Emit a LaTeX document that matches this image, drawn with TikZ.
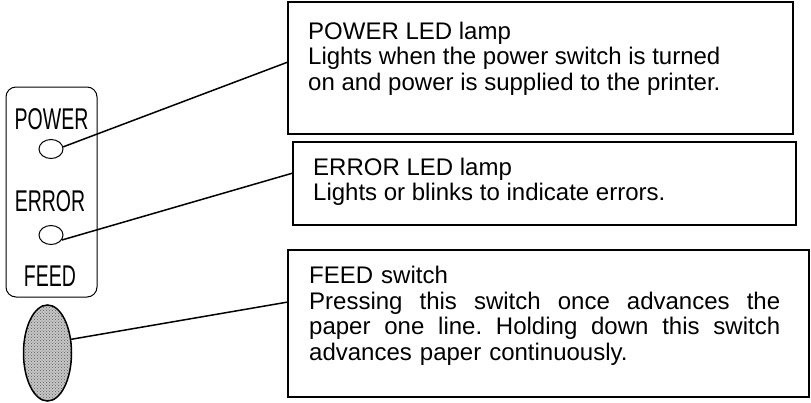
\documentclass[tikz,border=0pt]{standalone}
\usepackage{fontspec}
\setmainfont{Liberation Sans}
\newfontfamily\panelfont[FakeStretch=0.65]{Liberation Sans}
\usetikzlibrary{shapes.geometric, patterns, positioning, calc}
\frenchspacing
% justified line of the FEED text
\newcommand{\spreadline}[1]{\leavevmode\hbox to 471pt{\spaceskip=6.7pt plus 1fil\relax #1}}
\tikzset{
  infobox/.style={draw, line width=1.2pt, inner sep=0pt, outer sep=0pt, anchor=north west},
  infotext/.style={anchor=north west, inner sep=0pt, align=left, font=\fontsize{24}{25.5}\selectfont},
  paneltext/.style={inner sep=0pt, font=\panelfont\fontsize{30}{30}\selectfont},
  ledlamp/.style={ellipse, draw, line width=1pt, minimum width=24pt, minimum height=19pt, inner sep=0pt},
  leader/.style={line width=1.5pt}
}

\begin{document}
\begin{tikzpicture}[x=1pt, y=-1pt]
  \useasboundingbox (0,0) rectangle (811,402);
  % Panel
  \draw[line width=1pt, rounded corners=10pt] (6,87) rectangle (97,297);
  \node[paneltext] (pwrlabel) at (51.5,119) {POWER};
  \node[ledlamp] (pwrled) at (51,149) {};
  \node[paneltext] (errlabel) at (50,201) {ERROR};
  \node[ledlamp] (errled) at (51,235) {};
  \node[paneltext] (feedlabel) at (50,276) {FEED};
  % Feed button
  \node[ellipse, draw, line width=1.5pt, minimum width=48pt, minimum height=96pt, inner sep=0pt,
        preaction={fill=black!22}, pattern=crosshatch dots, pattern color=black!65] (feedbtn) at (47.5,353) {};
  % Boxes
  \node[infobox, minimum width=505pt, minimum height=132pt] (pwrbox) at (288,2) {};
  \node[infobox, minimum width=503pt, minimum height=83pt] (errbox) at (293,142) {};
  \node[infobox, minimum width=521pt, minimum height=147pt] (feedbox) at (288,250) {};
  % Box texts
  \node[infotext] (pwrtext) at (308,21.5) {POWER LED lamp\\
    Lights when the power switch is turned\\
    on and power is supplied to the printer.};
  \node[infotext] (errtext) at (313,157.5) {ERROR LED lamp\\
    Lights or blinks to indicate errors.};
  \node[infotext, text width=471pt] (feedtext) at (309,266) {FEED switch\\
    \spreadline{Pressing this switch once advances the}\\
    \spreadline{paper one line. Holding down this switch}\\
    advances paper continuously.};
  % Leaders
  \draw[leader] (pwrled.10) -- ([yshift=6pt]pwrbox.west);
  \draw[leader] (errled.-25) -- ([yshift=10.5pt]errbox.west);
  \draw[leader] (feedbtn.30) -- ([yshift=21.5pt]feedbox.west);
\end{tikzpicture}
\end{document}
